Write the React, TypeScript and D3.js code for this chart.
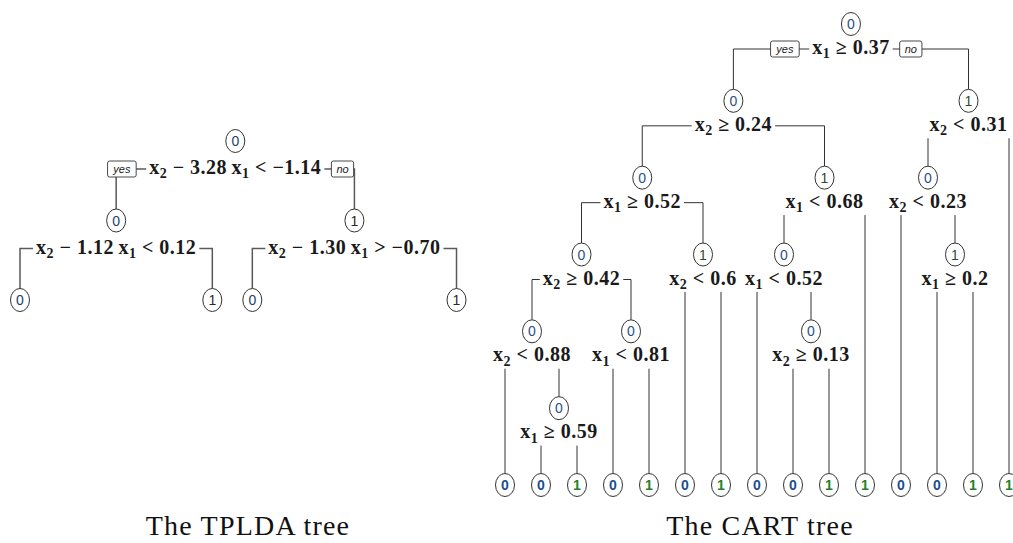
import React, { useEffect, useRef } from "react";
import * as d3 from "d3";

// ---------- data (rpart node numbering: children of n are 2n and 2n+1) ----------
const tpldaNodeIds = [1, 2, 3, 4, 5, 6, 7];
const tpldaClasses = ["0", "0", "1", "0", "1", "0", "1"];
const tpldaSplitIds = [1, 2, 3];
const tpldaSplitLabels = [
  "x_2 − 3.28\u2009x_1 < −1.14",
  "x_2 − 1.12\u2009x_1 < 0.12",
  "x_2 − 1.30\u2009x_1 > −0.70",
];

const cartNodeIds = [1, 2, 3, 4, 5, 6, 7, 8, 9, 10, 11, 12, 13, 16, 17, 18, 19, 20, 21, 26, 27, 32, 33, 34, 35, 42, 43, 66, 67];
const cartClasses = ["0", "0", "1", "0", "1", "0", "1", "0", "1", "0", "1", "0", "1", "0", "0", "0", "1", "0", "0", "0", "1", "0", "0", "0", "1", "0", "1", "0", "1"];
const cartSplitIds = [1, 2, 3, 4, 5, 6, 8, 9, 10, 13, 16, 17, 21, 33];
const cartSplitLabels = [
  "x_1 ≥ 0.37",
  "x_2 ≥ 0.24",
  "x_2 < 0.31",
  "x_1 ≥ 0.52",
  "x_1 < 0.68",
  "x_2 < 0.23",
  "x_2 ≥ 0.42",
  "x_2 < 0.6",
  "x_1 < 0.52",
  "x_1 ≥ 0.2",
  "x_2 < 0.88",
  "x_1 < 0.81",
  "x_2 ≥ 0.13",
  "x_1 ≥ 0.59",
];

const captions = ["The TPLDA tree", "The CART tree"];
const branchLabels = ["yes", "no"];

// ---------- helpers ----------
type TNode = {
  id: number;
  cls: string;
  split?: string;
  depth: number;
  left?: TNode;
  right?: TNode;
  x: number;
  y: number;
  splitY: number;
  labelW: number;
  labelSel?: any;
};

function buildTree(ids: number[], classes: string[], splitIds: number[], splitLabels: string[]) {
  const map = new Map<number, TNode>();
  ids.forEach((id, i) =>
    map.set(id, { id, cls: classes[i], depth: Math.floor(Math.log2(id) + 1e-9), x: 0, y: 0, splitY: 0, labelW: 0 })
  );
  splitIds.forEach((id, i) => {
    const n = map.get(id);
    if (n) n.split = splitLabels[i];
  });
  map.forEach((n) => {
    n.left = map.get(2 * n.id);
    n.right = map.get(2 * n.id + 1);
  });
  return map;
}

function leavesInOrder(n: TNode): TNode[] {
  if (!n.left || !n.right) return [n];
  return [...leavesInOrder(n.left), ...leavesInOrder(n.right)];
}

function setInternalX(n: TNode): number {
  if (!n.left || !n.right) return n.x;
  n.x = (setInternalX(n.left) + setInternalX(n.right)) / 2;
  return n.x;
}

const SERIF = "'Liberation Serif', 'Times New Roman', serif";
const SANS = "'Liberation Sans', Arial, Helvetica, sans-serif";

function mathText(g: any, label: string, fs: number) {
  const t = g
    .append("text")
    .attr("font-family", SERIF)
    .attr("font-weight", "bold")
    .attr("font-size", fs)
    .attr("letter-spacing", 0.5)
    .attr("fill", "#1a1a1a")
    .attr("text-anchor", "middle")
    .style("white-space", "pre");
  const sub = fs * 0.22;
  const parts = label.split(/(x_\d)/).filter((p) => p.length > 0);
  let shifted = false;
  parts.forEach((p) => {
    const m = p.match(/^x_(\d)$/);
    if (m) {
      const a = t.append("tspan").text("x");
      if (shifted) a.attr("dy", -sub);
      t.append("tspan").text(m[1]).attr("font-size", fs * 0.7).attr("dy", sub);
      shifted = true;
    } else {
      const a = t.append("tspan").text(p);
      if (shifted) a.attr("dy", -sub);
      shifted = false;
    }
  });
  return t;
}

type Style = {
  lineColor: string;
  lineWidth: number;
  splitOffset: number;
  leafBold: boolean;
  color0: string;
  color1: string;
  leafColor0: string;
  leafColor1: string;
};

const RX = 9.5;
const RY = 11.5;
const LABEL_FS = 20;

function drawTree(svg: any, map: Map<number, TNode>, layoutX: (root: TNode) => void, layoutY: (n: TNode) => number, st: Style) {
  const root = map.get(1)!;
  const gLines = svg.append("g");
  const gLabels = svg.append("g");
  const gBoxes = svg.append("g");
  const gNodes = svg.append("g");

  // create labels first to measure widths
  map.forEach((n) => {
    if (n.split) {
      n.labelSel = mathText(gLabels, n.split, LABEL_FS);
      n.labelW = n.labelSel.node().getBBox().width;
    }
  });

  layoutX(root);
  map.forEach((n) => {
    n.y = layoutY(n);
    n.splitY = n.y + st.splitOffset;
  });

  // branches
  map.forEach((n) => {
    if (n.left && n.right) {
      const path = d3.path();
      path.moveTo(n.left.x, n.left.y - RY);
      path.lineTo(n.left.x, n.splitY);
      path.lineTo(n.right.x, n.splitY);
      path.lineTo(n.right.x, n.right.y - RY);
      gLines
        .append("path")
        .attr("d", path.toString())
        .attr("fill", "none")
        .attr("stroke", st.lineColor)
        .attr("stroke-width", st.lineWidth);
    }
  });

  // labels with white background
  map.forEach((n) => {
    if (n.labelSel) {
      n.labelSel.attr("x", n.x).attr("y", n.splitY + 5);
      const bb = n.labelSel.node().getBBox();
      gLabels
        .insert("rect", () => n.labelSel.node())
        .attr("x", bb.x - 3)
        .attr("y", bb.y)
        .attr("width", bb.width + 6)
        .attr("height", bb.height)
        .attr("fill", "white");
    }
  });

  // yes / no boxes at root
  if (root.labelSel) {
    const bb = root.labelSel.node().getBBox();
    branchLabels.forEach((lab, i) => {
      const t = gBoxes
        .append("text")
        .attr("font-family", SANS)
        .attr("font-style", "italic")
        .attr("font-size", 11)
        .attr("fill", "#222")
        .attr("text-anchor", "middle")
        .text(lab);
      const w = (t.node() as SVGTextElement).getBBox().width + 10;
      const x0 = i === 0 ? bb.x - 13 - w : bb.x + bb.width + 10;
      gBoxes
        .insert("rect", () => t.node())
        .attr("x", x0)
        .attr("y", root.splitY - 8)
        .attr("width", w)
        .attr("height", 16)
        .attr("rx", 2)
        .attr("fill", "white")
        .attr("stroke", "#333")
        .attr("stroke-width", 0.9);
      t.attr("x", x0 + w / 2).attr("y", root.splitY + 4);
    });
  }

  // nodes
  map.forEach((n) => {
    const leaf = !n.left;
    gNodes
      .append("ellipse")
      .attr("cx", n.x)
      .attr("cy", n.y)
      .attr("rx", RX)
      .attr("ry", RY)
      .attr("fill", "white")
      .attr("stroke", "#333")
      .attr("stroke-width", 1);
    const col = leaf ? (n.cls === "0" ? st.leafColor0 : st.leafColor1) : n.cls === "0" ? st.color0 : st.color1;
    gNodes
      .append("text")
      .attr("x", n.x)
      .attr("y", n.y + 5)
      .attr("text-anchor", "middle")
      .attr("font-family", SANS)
      .attr("font-size", 14)
      .attr("font-weight", leaf && st.leafBold ? "bold" : "normal")
      .attr("fill", col)
      .text(n.cls);
  });
}

export default function App() {
  const ref = useRef<SVGSVGElement | null>(null);

  useEffect(() => {
    const svg = d3.select(ref.current);
    svg.selectAll("*").remove();
    svg.append("rect").attr("width", 1013).attr("height", 543).attr("fill", "white");

    // ----- TPLDA tree -----
    const tplda = buildTree(tpldaNodeIds, tpldaClasses, tpldaSplitIds, tpldaSplitLabels);
    const tpldaY = d3.scaleLinear().domain([0, 2]).range([141, 300]);
    drawTree(
      svg,
      tplda,
      (root) => {
        const leaves = leavesInOrder(root);
        let x = 20;
        leaves.forEach((lf, i) => {
          if (i > 0) {
            const prev = leaves[i - 1];
            if (prev.id >> 1 === lf.id >> 1) {
              const parent = tplda.get(lf.id >> 1)!;
              x += parent.labelW + 32;
            } else {
              x += 40;
            }
          }
          lf.x = x;
        });
        setInternalX(root);
      },
      (n) => tpldaY(n.depth),
      {
        lineColor: "#5a5a5a",
        lineWidth: 1.5,
        splitOffset: 28,
        leafBold: false,
        color0: "#23406e",
        color1: "#2a2a2a",
        leafColor0: "#23406e",
        leafColor1: "#2a2a2a",
      }
    );

    // ----- CART tree -----
    const cart = buildTree(cartNodeIds, cartClasses, cartSplitIds, cartSplitLabels);
    const cartRoot = cart.get(1)!;
    const cartLeaves = leavesInOrder(cartRoot);
    const maxDepth = d3.max(cartLeaves, (d) => d.depth) as number;
    const cartX = d3
      .scalePoint<number>()
      .domain(cartLeaves.map((d) => d.id))
      .range([505, 1009]);
    const cartY = d3.scaleLinear().domain([0, maxDepth]).range([24, 485]);
    drawTree(
      svg,
      cart,
      (root) => {
        cartLeaves.forEach((lf) => (lf.x = cartX(lf.id) as number));
        setInternalX(root);
      },
      (n) => (n.left ? cartY(n.depth) : cartY(maxDepth)),
      {
        lineColor: "#333",
        lineWidth: 1,
        splitOffset: 25,
        leafBold: true,
        color0: "#2b4f86",
        color1: "#2f4a2f",
        leafColor0: "#1d4f8f",
        leafColor1: "#24802a",
      }
    );

    // ----- captions -----
    const capX = [248, 760];
    captions.forEach((c, i) => {
      svg
        .append("text")
        .attr("x", capX[i])
        .attr("y", 535)
        .attr("text-anchor", "middle")
        .attr("font-family", SERIF)
        .attr("font-size", 28)
        .attr("letter-spacing", 1.2)
        .attr("fill", "#111")
        .text(c);
    });
  }, []);

  return (
    <svg
      ref={ref}
      width={1013}
      height={543}
      style={{ position: "absolute", left: 0, top: 0, background: "white" }}
    />
  );
}
